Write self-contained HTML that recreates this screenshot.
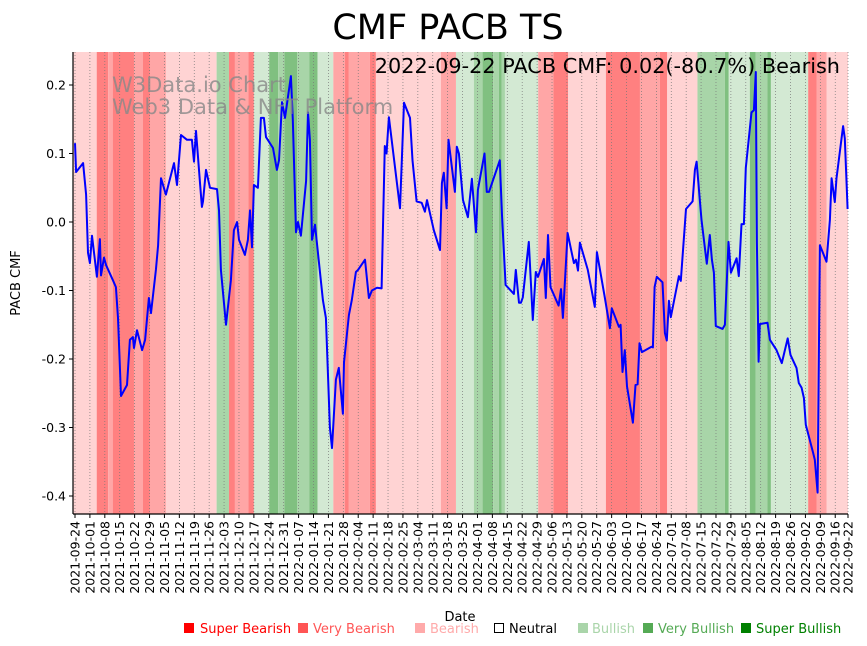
<!DOCTYPE html>
<html><head><meta charset="utf-8"><style>
body{margin:0;background:#fff;font-family:"DejaVu Sans","Liberation Sans",sans-serif}
svg{display:block}
</style></head><body>
<svg id="chart" width="867" height="646" xmlns="http://www.w3.org/2000/svg">
<g id="bands"></g>
<g id="grid"></g>
<g id="line"></g>
<g id="axes"></g>
<text x="448" y="39" font-size="35" text-anchor="middle">CMF PACB TS</text>
<text x="840" y="73" font-size="20.8" text-anchor="end">2022-09-22 PACB CMF: 0.02(-80.7%) Bearish</text>
<text x="112" y="92" font-size="21" fill="#888" fill-opacity="0.8">W3Data.io Chart</text>
<text x="112" y="114" font-size="21" fill="#888" fill-opacity="0.8">Web3 Data &amp; NFT Platform</text>
<text transform="translate(20,283) rotate(-90)" font-size="13" text-anchor="middle">PACB CMF</text>
<text x="460" y="621" font-size="13" text-anchor="middle">Date</text>
<g font-size="13">
<g><rect x="184" y="623" width="10" height="10" fill="#ff0000"/><text x="200" y="633" fill="#ff0000">Super Bearish</text></g>
<g><rect x="298" y="623" width="10" height="10" fill="#ff5555"/><text x="313" y="633" fill="#ff5555">Very Bearish</text></g>
<g><rect x="415" y="623" width="10" height="10" fill="#ffaaaa"/><text x="430" y="633" fill="#ffaaaa">Bearish</text></g>
<g><rect x="494.5" y="623.5" width="9" height="9" fill="none" stroke="#000"/><text x="509" y="633" fill="#000">Neutral</text></g>
<g><rect x="578" y="623" width="10" height="10" fill="#aad5aa"/><text x="592" y="633" fill="#aad5aa">Bullish</text></g>
<g><rect x="643" y="623" width="10" height="10" fill="#55aa55"/><text x="658" y="633" fill="#55aa55">Very Bullish</text></g>
<g><rect x="741" y="623" width="10" height="10" fill="#008000"/><text x="756" y="633" fill="#008000">Super Bullish</text></g>
</g>
</svg>
<script>
const days=[0,0.5,3.8,5.2,6.1,7,8,10.3,11.7,12.2,13.6,14.6,17.8,19.2,20.2,21.6,24.4,25.8,27.2,27.7,29.1,31.5,32.9,34.7,35.7,38,39,40.4,42.7,46.5,47.9,49.8,52.6,54.9,55.9,56.8,58.7,59.6,60.1,61.5,63.4,66.7,67.6,68.5,70.9,73.2,74.6,76.1,77,79.8,81.2,82.2,83.1,84,85.9,87.3,88.7,89.7,93,94.8,95.8,97.2,98.6,101.4,102.3,103.8,104.7,106.1,108.5,109.4,110.3,111.3,112.7,116.4,117.8,119.7,120.7,122.5,123.9,125.8,126.3,128.6,130,131.9,132.9,136.2,138,139.4,141.8,144,145.5,146.3,147.4,152.6,154.5,157.3,158.5,160.4,162.8,164.3,165.3,168.5,171.4,172.3,173.2,174.5,175.4,178.4,179.3,180.3,182.2,184.5,186.4,188.3,189.2,192.3,193.4,194.4,199.5,200.5,202.2,206.1,207,208.5,209.4,210.3,213.1,215,216.4,217.4,220.2,221.1,222.1,223.3,227.1,228.2,229.1,231.3,234.3,235.2,236.2,237.1,240.8,244.1,245.1,248.8,251.2,252.1,255.4,256.2,257.1,258.2,259.2,262,263.2,264.2,265.1,266.2,270.7,271.4,272.2,273.2,275.9,277,277.9,278.9,279.8,283.6,284.5,286.9,290,291.1,291.9,294.2,296.7,298.1,299.1,300,300.9,304.1,305.2,306.9,308,310.7,311.7,313,314.1,315,317.7,318.8,319.7,320.2,321,321.6,325.2,326.3,329.4,331.9,334.7,336,338.8,339.9,341.2,342.3,343.2,346.6,347.4,348.7,349.8,352.9,354.5,355.3,356.8,357.6,360.7,361.5,362.8];
const cmf=[0.115,0.073,0.086,0.04,-0.045,-0.06,-0.02,-0.08,-0.025,-0.078,-0.052,-0.063,-0.085,-0.095,-0.14,-0.254,-0.238,-0.172,-0.168,-0.184,-0.158,-0.187,-0.172,-0.111,-0.133,-0.07,-0.034,0.064,0.04,0.086,0.054,0.127,0.12,0.12,0.088,0.133,0.057,0.022,0.03,0.076,0.05,0.048,0.017,-0.07,-0.15,-0.085,-0.012,0,-0.026,-0.048,-0.026,0.017,-0.037,0.054,0.05,0.152,0.152,0.124,0.108,0.076,0.09,0.175,0.152,0.213,0.15,-0.015,0,-0.02,0.06,0.16,0.12,-0.026,-0.004,-0.114,-0.14,-0.3,-0.33,-0.23,-0.213,-0.28,-0.205,-0.136,-0.114,-0.073,-0.07,-0.055,-0.111,-0.1,-0.096,-0.097,0.111,0.1,0.153,0.02,0.174,0.152,0.09,0.03,0.028,0.015,0.032,-0.012,-0.041,0.057,0.072,0.02,0.12,0.044,0.11,0.1,0.032,0.007,0.063,-0.015,0.047,0.1,0.044,0.044,0.09,0.01,-0.092,-0.105,-0.07,-0.118,-0.118,-0.11,-0.029,-0.143,-0.073,-0.08,-0.054,-0.111,-0.019,-0.095,-0.122,-0.098,-0.14,-0.016,-0.06,-0.055,-0.071,-0.03,-0.07,-0.124,-0.044,-0.11,-0.155,-0.126,-0.153,-0.15,-0.219,-0.187,-0.24,-0.293,-0.238,-0.237,-0.177,-0.19,-0.182,-0.183,-0.095,-0.08,-0.088,-0.162,-0.173,-0.115,-0.139,-0.079,-0.086,0.019,0.03,0.076,0.088,0.003,-0.061,-0.019,-0.055,-0.074,-0.152,-0.156,-0.15,-0.029,-0.074,-0.053,-0.079,-0.003,-0.003,0.079,0.16,0.163,0.219,-0.03,-0.204,-0.149,-0.147,-0.172,-0.187,-0.206,-0.17,-0.194,-0.213,-0.235,-0.242,-0.257,-0.296,-0.337,-0.347,-0.395,-0.034,-0.058,0.003,0.064,0.029,0.064,0.14,0.122,0.019];
const bandStarts=[-0.9,10.2,15.6,17.7,27.7,31.8,35.2,42.7,66.5,72.3,75.1,81.4,84,91.2,95.4,98.3,104.4,110,113.9,121.3,126.8,128.6,138.5,141.3,171.8,178.9,187.3,191.4,196.4,199,200.3,201.9,217.5,224.6,231.6,249.3,265.3,274.6,278.1,292.3,305.2,307,316.9,319.7,325.2,326.8,344.3,348.2,352.9,363.5];
const bandCats=[3,1,2,1,2,1,2,3,6,1,2,1,5,7,6,7,6,7,5,2,1,2,1,3,2,5,6,7,6,7,6,5,2,1,3,1,2,1,3,6,7,5,7,6,7,5,1,2,3];
const yTicks=[-0.4,-0.3,-0.2,-0.1,0.0,0.1,0.2];
const NS='http://www.w3.org/2000/svg';
const X0=73,X1=848,Y0=52,Y1=514;
const xs=d=>75+d*2.1295;
const ys=v=>222-v*685;
const catColor={1:'#ff8080',2:'#ffa6a6',3:'#ffd3d3',5:'#d3e9d3',6:'#a8d5a8',7:'#80c080'};
function mk(tag,attrs,parent){const e=document.createElementNS(NS,tag);for(const k in attrs)e.setAttribute(k,attrs[k]);parent.appendChild(e);return e;}
const bands=document.getElementById('bands');
for(let i=0;i<bandCats.length;i++){
 const a=Math.max(X0,xs(bandStarts[i])),b=Math.min(X1,xs(bandStarts[i+1]));
 const r=mk('rect',{x:a,y:Y0,width:Math.max(0,b-a),height:Y1-Y0,fill:catColor[bandCats[i]]},bands);
 
 
}
const grid=document.getElementById('grid'),axes=document.getElementById('axes');
const start=new Date(Date.UTC(2021,8,24));
const tickDays=[];for(let d=0;d<=357;d+=7)tickDays.push(d);tickDays.push(363);
tickDays.forEach(d=>{
 const x=xs(d);
 const g=mk('line',{x1:x,x2:x,y1:Y0,y2:Y1,stroke:'#777','stroke-width':0.7,'stroke-dasharray':'1,2'},grid);
 
 
 mk('line',{x1:x,x2:x,y1:Y1,y2:Y1+4,stroke:'#000'},axes);
 const dt=new Date(start.getTime()+d*86400000);
 const t=mk('text',{transform:`translate(${x+4.5},${Y1+7}) rotate(-90)`,'font-size':12.5,'text-anchor':'end'},axes);
 t.textContent=dt.toISOString().slice(0,10);
 
 
});
yTicks.forEach(v=>{
 const y=ys(v);
 mk('line',{x1:X0-4,x2:X0,y1:y,y2:y,stroke:'#000'},axes);
 const t=mk('text',{x:X0-7,y:y+4.5,'font-size':12.5,'text-anchor':'end'},axes);
 t.textContent=v.toFixed(1);
 
 
});
mk('line',{x1:X0,x2:X0,y1:Y0,y2:Y1,stroke:'#000','stroke-width':1.2},axes);
mk('line',{x1:X0,x2:X1,y1:Y1,y2:Y1,stroke:'#000','stroke-width':1.2},axes);
const pts=days.map((d,i)=>xs(d).toFixed(1)+','+ys(cmf[i]).toFixed(1)).join(' ');
const pl=mk('polyline',{points:pts,fill:'none',stroke:'#0000ff','stroke-width':2,'stroke-linejoin':'round'},document.getElementById('line'));


</script>
</body></html>
